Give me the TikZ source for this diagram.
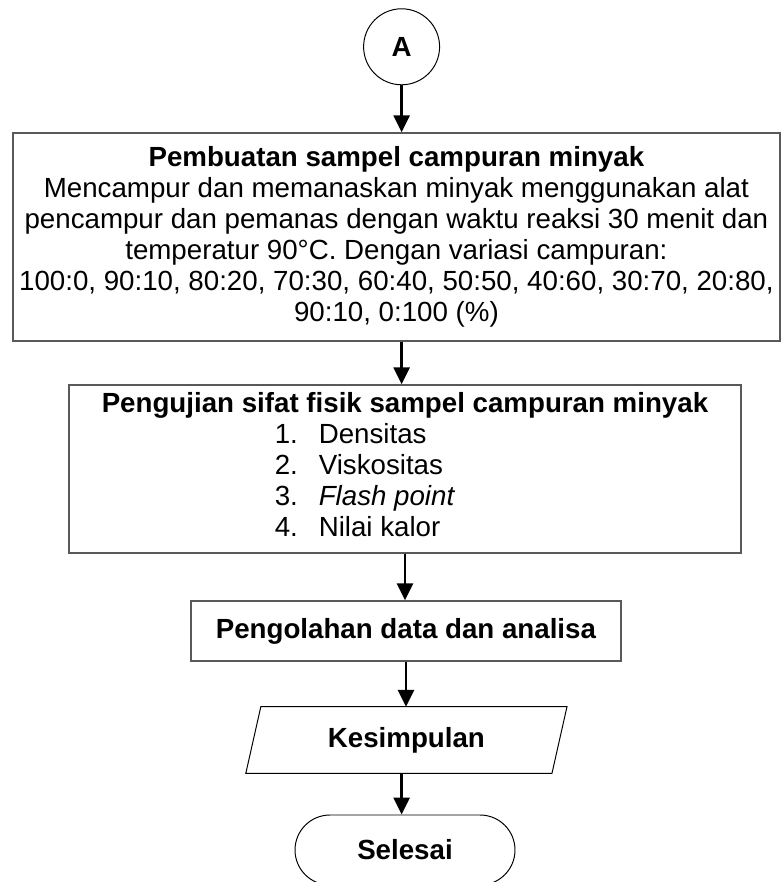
\documentclass[tikz,border=0pt]{standalone}
\usepackage{fontspec}
\setmainfont{Liberation Sans}
\usetikzlibrary{arrows.meta,shapes.misc}

\begin{document}
\begin{tikzpicture}[
  kotak/.style={draw=black!65, line width=1pt, inner sep=0pt, align=center},
  garis/.style={draw, line width=0.7pt, inner sep=0pt},
  flow/.style={line width=1.6pt, -{Triangle[width=0.4cm,length=0.42cm]}},
  font=\fontsize{19.7}{22}\selectfont
]
\useasboundingbox (0,0) rectangle (19.55,22.05);

\node[garis, circle, minimum size=1.9cm] (bulatA) at (10.04, 20.88) {\textbf{A}};

\node[kotak, minimum width=19.18cm, minimum height=5.2cm] (pembuatan) at (9.91, 16.125)
  {\textbf{Pembuatan sampel campuran minyak}\\
   Mencampur dan memanaskan minyak menggunakan alat\\
   pencampur dan pemanas dengan waktu reaksi 30 menit dan\\
   temperatur 90°C. Dengan variasi campuran:\\
   100:0, 90:10, 80:20, 70:30, 60:40, 50:50, 40:60, 30:70, 20:80,\\
   90:10, 0:100 (\%)};

\node[kotak, minimum width=16.8cm, minimum height=4.2cm] (pengujian) at (10.125, 10.325)
  {\textbf{Pengujian sifat fisik sampel campuran minyak}\\
   \begin{tabular}[t]{@{}l@{}l@{}}
   \makebox[1.1cm][l]{1.} & Densitas\\
   \makebox[1.1cm][l]{2.} & Viskositas\\
   \makebox[1.1cm][l]{3.} & \textit{Flash point}\\
   \makebox[1.1cm][l]{4.} & Nilai kalor
   \end{tabular}\hspace*{2cm}};

\node[kotak, minimum width=10.75cm, minimum height=1.5cm] (pengolahan) at (10.15, 6.275)
  {\textbf{Pengolahan data dan analisa}};

\node[inner sep=0pt, minimum width=7.64cm, minimum height=1.65cm] (kesimpulan) at (10.16, 3.55)
  {\textbf{Kesimpulan}};
\draw[line width=0.7pt] ([xshift=0.1875cm]kesimpulan.north west) -- ([xshift=0.1875cm]kesimpulan.north east)
  -- ([xshift=-0.1875cm]kesimpulan.south east) -- ([xshift=-0.1875cm]kesimpulan.south west) -- cycle;

\node[garis, rounded rectangle, minimum width=5.5cm, minimum height=1.75cm] (selesai) at (10.125, 0.8)
  {\textbf{Selesai}};

\draw[flow] (bulatA.south) -- (bulatA.south |- pembuatan.north);
\draw[flow] (pembuatan.south -| bulatA) -- (pengujian.north -| bulatA);
\draw[flow] (pengujian.south) -- (pengujian.south |- pengolahan.north);
\draw[flow] (pengolahan.south) -- (pengolahan.south |- kesimpulan.north);
\draw[flow] (kesimpulan.south -| bulatA) -- (selesai.north -| bulatA);
\end{tikzpicture}
\end{document}
